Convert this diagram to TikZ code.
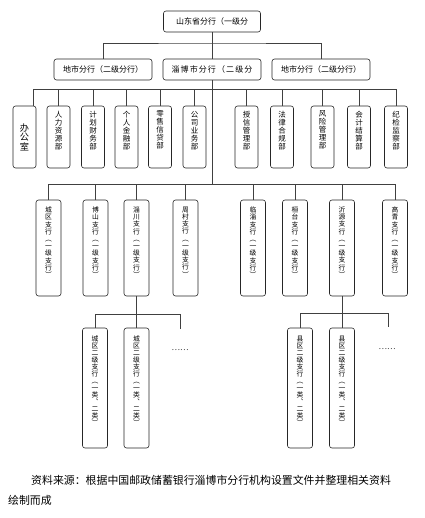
\documentclass[tikz,border=0pt]{standalone}
\usepackage{fontspec}
\setmainfont{Noto Sans CJK SC}
\newfontfamily\cjkls[LetterSpace=14]{Noto Sans CJK SC}
\begin{document}
\tikzset{
 box/.style={draw=black!85, line width=0.6pt, rounded corners=2.5pt, inner sep=0pt},
 hbox/.style={box, minimum width=98pt, minimum height=21pt, font=\fontsize{8}{9}\selectfont},
 dbox/.style={box, minimum width=23pt, minimum height=62pt},
 bbox/.style={box, minimum width=25pt, minimum height=96pt},
 sbox/.style={box, minimum width=25pt, minimum height=120pt},
 vt/.style={inner sep=0pt, align=center, anchor=north},
 dtxt/.style={vt, font=\fontsize{7.5}{8}\selectfont},
 btxt/.style={vt, font=\fontsize{6.8}{7.2}\selectfont},
 stxt/.style={vt, font=\fontsize{6.8}{7}\selectfont},
 conn/.style={draw=black!75, line width=0.6pt},
 dots/.style={inner sep=0pt, font=\fontsize{8}{8}\selectfont, text=black!80},
}
\begin{tikzpicture}[x=1pt,y=-1pt]
\useasboundingbox (0,0) rectangle (424,518);
% level 1 and 2
\node[hbox, minimum width=97pt] (top) at (212,21.5) {山东省分行（一级分};
\node[hbox] (L) at (103,69.5) {地市分行（二级分行）};
\node[hbox, font=\cjkls\fontsize{8}{9}\selectfont] (M) at (212,69.5) {淄博市分行（二级分};
\node[hbox] (R) at (321,69.5) {地市分行（二级分行）};
\coordinate (h1) at (212,43);
\draw[conn] (top.south) -- (M.north);
\draw[conn] (L.north) |- (h1) -| (R.north);
% departments
\coordinate (dl) at (212,89);
\node[dbox] (d1) at (24.5,137) {};
\node[vt, font=\fontsize{9.2}{9.6}\selectfont, anchor=center] (t1) at (d1.center) {办\\公\\室};
\foreach \n/\x/\tx in {d2/58.5/{人\\力\\资\\源\\部},
                       d3/93/{计\\划\\财\\务\\部},
                       d4/126.5/{个\\人\\金\\融\\部},
                       d5/160/{零\\售\\信\\贷\\部},
                       d6/194.5/{公\\司\\业\\务\\部},
                       d7/246.5/{授\\信\\管\\理\\部},
                       d8/282/{法\\律\\合\\规\\部},
                       d9/322.5/{风\\险\\管\\理\\部},
                       d10/359/{会\\计\\结\\算\\部},
                       d11/396/{纪\\检\\监\\察\\部}}{
  \node[dbox] (\n) at (\x,137) {};
  \node[dtxt] (t\n) at ([yshift=-5pt]\n.north) {\tx};
}
\draw[conn] ([xshift=-3pt]d1.north east) |- (d11.north |- dl) -- (d11.north);
\foreach \n in {d2,d3,d4,d5,d6,d7,d8,d9,d10}{
  \draw[conn] (\n.north) -- (\n.north |- dl);
}
% first-level sub-branches
\coordinate (bl) at (212,184);
\draw[conn] (M.south) -- (bl);
\foreach \n/\x/\a/\b in {b1/48.5/城/区, b2/95.5/博/山, b3/136.5/淄/川, b4/185.5/周/村,
                          b5/253/临/淄, b6/295/桓/台, b7/342/沂/源, b8/395/高/青}{
  \node[bbox] (\n) at (\x,248) {};
  \node[btxt] (t\n) at ([yshift=-7pt]\n.north) {\a\\\b\\支\\行\\︵\\一\\级\\支\\行\\︶};
}
\draw[conn] (b1.north) |- (b8.north |- bl) -- (b8.north);
\foreach \n in {b2,b3,b4,b5,b6,b7}{
  \draw[conn] (\n.north) -- (\n.north |- bl);
}
% second-level sub-branches, left
\coordinate (l2) at (136.5,314);
\coordinate (e1) at (180,329);
\node[sbox] (s1) at (95,388) {};
\node[sbox] (s2) at (136.5,388) {};
\foreach \n/\a in {s1/城, s2/城}{
  \node[stxt] (t\n) at ([yshift=-8pt]\n.north) {\a\\区\\二\\级\\支\\行\\︵\\一\\类\\︑\\二\\类\\︶};
}
\draw[conn] (b3.south) -- (s2.north);
\draw[conn] (s1.north) |- (e1 |- l2) -- (e1);
\node[dots] (k1) at (180,350) {……};
% second-level sub-branches, right
\coordinate (r2) at (342,313);
\coordinate (e2) at (388,327);
\node[sbox] (s3) at (300,388) {};
\node[sbox] (s4) at (342,388) {};
\foreach \n/\a in {s3/县, s4/县}{
  \node[stxt] (t\n) at ([yshift=-8pt]\n.north) {\a\\区\\二\\级\\支\\行\\︵\\一\\类\\︑\\二\\类\\︶};
}
\draw[conn] (b7.south) -- (s4.north);
\draw[conn] (s3.north) |- (e2 |- r2) -- (e2);
\node[dots] (k2) at (387,349) {……};
% caption
\node[anchor=west, inner sep=0pt, font=\fontsize{10.9}{12}\selectfont] (c1) at (31,480) {资料来源：根据中国邮政储蓄银行淄博市分行机构设置文件并整理相关资料};
\node[anchor=west, inner sep=0pt, font=\fontsize{10.9}{12}\selectfont] (c2) at (8,500) {绘制而成};
\end{tikzpicture}
\end{document}
